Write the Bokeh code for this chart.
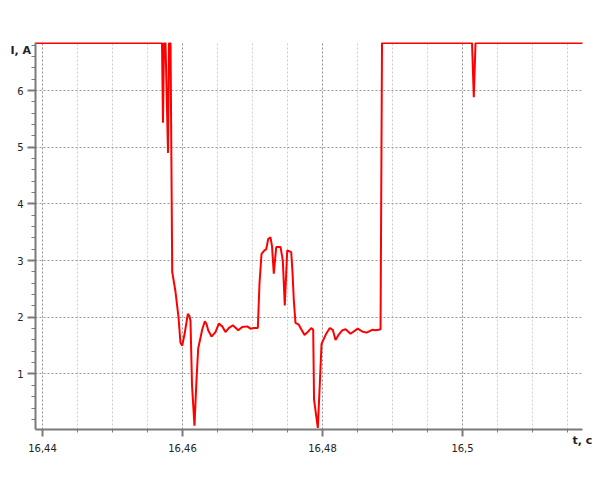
from bokeh.plotting import figure
from bokeh.models import FixedTicker, CustomJSTickFormatter, Range1d
from bokeh.embed import file_html
from bokeh.resources import INLINE

# time, s
t = [16.43900, 16.45707, 16.45721, 16.45736, 16.45757, 16.45793, 16.45807, 16.45829,
     16.45853, 16.45900, 16.45943, 16.45971, 16.45996, 16.46029, 16.46076, 16.46100,
     16.46114, 16.46136, 16.46171, 16.46200, 16.46224, 16.46250, 16.46281, 16.46319,
     16.46343, 16.46367, 16.46414, 16.46471, 16.46519, 16.46567, 16.46614, 16.46661,
     16.46719, 16.46796, 16.46853, 16.46924, 16.46971, 16.47019, 16.47076, 16.47100,
     16.47129, 16.47171, 16.47196, 16.47224, 16.47257, 16.47279, 16.47304, 16.47339,
     16.47400, 16.47433, 16.47461, 16.47496, 16.47553, 16.47571, 16.47590, 16.47614,
     16.47661, 16.47700, 16.47743, 16.47781, 16.47839, 16.47867, 16.47879, 16.47933,
     16.47964, 16.47986, 16.48019, 16.48057, 16.48104, 16.48147, 16.48186, 16.48224,
     16.48281, 16.48329, 16.48400, 16.48504, 16.48567, 16.48629, 16.48710, 16.48757,
     16.48800, 16.48829, 16.48850, 16.50136, 16.50161, 16.50186, 16.51971]
# current, A
current = [6.84, 6.84, 5.43, 6.84, 6.84, 4.90, 6.84, 6.84,
           2.80, 2.45, 2.00, 1.55, 1.50, 1.70, 2.06, 2.02,
           1.94, 0.80, 0.09, 0.90, 1.45, 1.60, 1.78, 1.93,
           1.88, 1.77, 1.66, 1.74, 1.89, 1.84, 1.74, 1.81,
           1.86, 1.77, 1.83, 1.84, 1.80, 1.81, 1.81, 2.60,
           3.12, 3.18, 3.20, 3.38, 3.41, 3.25, 2.77, 3.24,
           3.24, 3.00, 2.21, 3.18, 3.15, 2.80, 2.30, 1.90,
           1.87, 1.78, 1.69, 1.73, 1.81, 1.78, 0.55, 0.05,
           0.90, 1.53, 1.62, 1.72, 1.81, 1.78, 1.60, 1.68,
           1.77, 1.79, 1.71, 1.80, 1.75, 1.73, 1.78, 1.77,
           1.78, 1.79, 6.84, 6.84, 5.88, 6.84, 6.84]

x_major = [16.44, 16.46, 16.48, 16.50]
x_minor = [16.44 + 0.005 * i for i in range(16)]
y_major = [1, 2, 3, 4, 5, 6]
y_minor = [round(0.2 * i, 1) for i in range(1, 35)]
x_title = "t, c"
y_title = "I, A"

p = figure(width=592, height=480, output_backend="svg", toolbar_location=None,
           x_range=Range1d(16.4390, 16.51714), y_range=Range1d(0.021, 6.847),
           min_border_left=35, min_border_right=10, min_border_top=42, min_border_bottom=51)
p.outline_line_color = None
p.background_fill_color = "white"

p.line(t, current, line_color="#ff0000", line_width=2)

gray = "#7a7a7a"
font = "DejaVu Sans"

xa = p.xaxis[0]
xa.ticker = FixedTicker(ticks=x_major, minor_ticks=x_minor)
xa.formatter = CustomJSTickFormatter(code="return String(Math.round(tick*100)/100).replace('.', ',');")
ya = p.yaxis[0]
ya.ticker = FixedTicker(ticks=y_major, minor_ticks=y_minor)

for ax in (xa, ya):
    ax.axis_line_color = gray
    ax.axis_line_width = 2
    ax.major_tick_line_color = gray
    ax.minor_tick_line_color = gray
    ax.major_tick_line_width = 2
    ax.minor_tick_line_width = 1
    ax.major_tick_in = 0
    ax.minor_tick_in = 0
    ax.major_label_text_font = font
    ax.major_label_text_font_size = "10px"
    ax.major_label_text_color = "#222222"
    ax.axis_label_text_font = font
    ax.axis_label_text_font_size = "11px"
    ax.axis_label_text_font_style = "bold"
    ax.axis_label_text_color = "#222222"
    ax.axis_label_align = "end"

xa.major_tick_out = 7
xa.minor_tick_out = 3
xa.major_label_standoff = 7
ya.major_tick_out = 8
ya.minor_tick_out = 4
ya.major_label_standoff = 4

# axis titles placed at the axis ends, as in the reference
xa.axis_label = x_title
xa.axis_label_standoff = -21
ya.axis_label = "\n" + y_title
ya.axis_label_orientation = "horizontal"
ya.axis_label_standoff = -17

p.xgrid.grid_line_color = "#999999"
p.xgrid.grid_line_dash = "2 2"
p.xgrid.minor_grid_line_color = "#cccccc"
p.xgrid.minor_grid_line_dash = "2 2"
p.ygrid.grid_line_color = "#999999"
p.ygrid.grid_line_dash = "2 2"

open("out.html", "w").write(file_html(p, INLINE))
